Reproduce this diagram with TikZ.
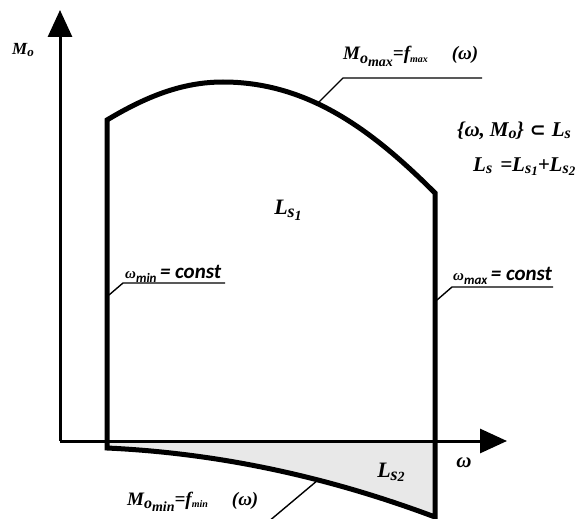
\documentclass[tikz,border=0pt]{standalone}
\usepackage{fontspec}
\setmainfont{Liberation Serif}
\newfontfamily\carlfont{Carlito}
\newfontfamily\symfont{DejaVu Sans}
\usetikzlibrary{arrows.meta}
\newcommand{\fsz}[1]{\fontsize{#1}{#1}\selectfont}
\newcommand{\lsub}[3]{\raisebox{#2}{\fsz{#1}#3}}
\begin{document}
\begin{tikzpicture}[x=1pt,y=-1pt,
  axis/.style={line width=3pt,-{Triangle[length=27pt,width=24pt]}},
  bound/.style={line width=5pt,line join=miter},
  leader/.style={line width=1.4pt},
  lbl/.style={font=\bfseries\itshape\fsz{19},inner sep=0pt},
  clbl/.style={font=\bfseries\itshape\fsz{21},inner sep=0pt}]
\useasboundingbox (0,0) rectangle (584,519);
\clip (0,0) rectangle (584,519);
% coordinates
\coordinate (O) at (60,441);
\coordinate (Ytip) at (60,10);
\coordinate (Xtip) at (507,441);
\coordinate (A) at (107,120);
\coordinate (B) at (107,448);
\coordinate (C) at (435,517);
\coordinate (D) at (435,193);
\coordinate (P) at (223,82);
\coordinate (Cx) at (435,441);
\coordinate (Bx) at (107,441);
% shaded region
\fill[gray!18] (Bx) -- (B) .. controls (217,453.1) and (326,476.1) .. (C) -- (Cx) -- cycle;
% axes
\draw[axis] (O) -- (Ytip);
\draw[axis] (O) -- (Xtip);
% boundary
\draw[bound] (A) -- (B) .. controls (217,453.1) and (326,476.1) .. (C) -- (D)
  .. controls (375,133) and (310,82) .. (P)
  .. controls (183,82) and (147,96) .. (A) -- cycle;
% leader points
\coordinate (pmax) at (318,103);
\coordinate (kmax) at (343,78);
\coordinate (emax) at (482,78);
\coordinate (pwmin) at (109,295);
\coordinate (kwmin) at (123,283);
\coordinate (ewmin) at (225,283);
\coordinate (pwmax) at (437,300);
\coordinate (kwmax) at (452,287);
\coordinate (ewmax) at (553,287);
\coordinate (pmin) at (318,480);
\coordinate (emin) at (268,522);
\draw[leader] (pmax) -- (kmax) -- (emax);
\draw[leader] (pwmin) -- (kwmin) -- (ewmin);
\draw[leader] (pwmax) -- (kwmax) -- (ewmax);
\draw[leader] (pmin) -- (emin);
% labels
\node[lbl,font=\bfseries\itshape\fsz{17},anchor=base west] (mo) at (12,55) {M\lsub{13}{-2pt}{o}};
\node[lbl,font=\bfseries\itshape\fsz{21}] (omega) at (464,463) {ω};
\node[lbl,anchor=base west] (fmax) at (343,60) {M\lsub{16}{-3pt}{o}\lsub{14}{-6pt}{max}=f\lsub{10}{-2pt}{max}\hspace{24pt}(ω)};
\node[lbl,font=\bfseries\itshape\fsz{21},anchor=base west] (set) at (457,136) {\{ω,\hspace{5pt}M\lsub{16}{-2pt}{o}\}\hspace{6pt}{\symfont\fsz{19}⊂}\hspace{6pt}L\lsub{16}{-2pt}{s}};
\node[lbl,font=\bfseries\itshape\fsz{21},anchor=base west] (sum) at (473,171) {L\lsub{16}{-2pt}{s}\hspace{8pt}=L\lsub{16}{-2pt}{s}\lsub{13}{-5pt}{1}+L\lsub{16}{-2pt}{s}\lsub{13}{-5pt}{2}};
\node[lbl,font=\bfseries\itshape\fsz{22}] (ls1) at (288,210) {L\lsub{18}{-3pt}{s}\lsub{14}{-6pt}{1}};
\node[lbl,font=\bfseries\itshape\fsz{22}] (ls2) at (391,472) {L\lsub{18}{-3pt}{s}\lsub{14}{-4pt}{2}};
\node[clbl,anchor=base west] (wmin) at (125,278) {{\fsz{15}ω}\lsub{13}{-4pt}{\carlfont min}\,{\carlfont = const}};
\node[clbl,anchor=base west] (wmax) at (453,280) {{\fsz{15}ω}\lsub{13}{-4pt}{\carlfont max}\,{\carlfont = const}};
\node[lbl,anchor=base west] (fmin) at (127,505) {M\lsub{16}{-3pt}{o}\lsub{14}{-6pt}{min}=f\lsub{10}{-2pt}{min}\hspace{24pt}(ω)};
\end{tikzpicture}
\end{document}
